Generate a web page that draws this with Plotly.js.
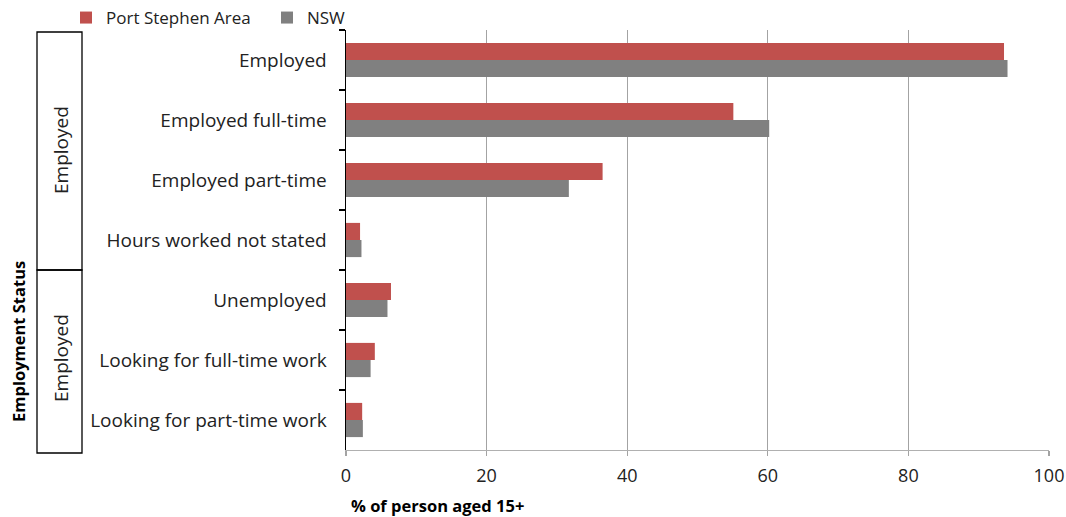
<!DOCTYPE html>
<html>
<head>
<meta charset="utf-8">
<script src="https://cdn.plot.ly/plotly-3.0.1.min.js"></script>
<style>
  html, body { margin: 0; padding: 0; background: #fff; }
  #chart { width: 1066px; height: 517px; }
</style>
</head>
<body>
<div id="chart"></div>
<script>
// Labour force status, % of persons aged 15+
const categories = [
  "Employed",
  "Employed full-time",
  "Employed part-time",
  "Hours worked not stated",
  "Unemployed",
  "Looking for full-time work",
  "Looking for part-time work"
];
const portStephenValues = [93.6, 55.1, 36.5, 2.0, 6.4, 4.1, 2.3];
const nswValues = [94.1, 60.2, 31.7, 2.2, 5.9, 3.5, 2.4];
const seriesNames = ["Port Stephen Area", "NSW"];
const xTicks = [0, 20, 40, 60, 80, 100];
const groupLabels = ["Employed", "Employed"];
const yTitle = "Employment Status";
const xTitle = "% of person aged 15+";

const FONT = "Open Sans, Lato, sans-serif";

const traces = [
  {
    type: "bar", orientation: "h", name: seriesNames[0],
    y: categories, x: portStephenValues,
    marker: { color: "#c0504d" }, hoverinfo: "x+name"
  },
  {
    type: "bar", orientation: "h", name: seriesNames[1],
    y: categories, x: nswValues,
    marker: { color: "#808080" }, hoverinfo: "x+name"
  }
];

// group brackets on the left: rows 0-3 and rows 4-6 of the category axis
const plotH = 420, plotW = 703;
function rowY(i) { return 1 - (i * 60) / plotH; }   // paper y of a row boundary
function px(x) { return (x - 346) / plotW; }         // paper x from a page column
function py(y) { return (450 - y) / plotH; }         // paper y from a page row

const shapes = [
  { type: "rect", xref: "paper", yref: "paper", x0: px(37), x1: px(82), y0: rowY(4), y1: py(32),
    line: { color: "#000", width: 1.3 }, fillcolor: "rgba(0,0,0,0)" },
  { type: "rect", xref: "paper", yref: "paper", x0: px(37), x1: px(82), y0: py(453), y1: rowY(4),
    line: { color: "#000", width: 1.3 }, fillcolor: "rgba(0,0,0,0)" }
];

const centered = { xanchor: "center", yanchor: "middle", showarrow: false, textangle: -90 };

const annotations = [
  Object.assign({ text: groupLabels[0], xref: "paper", yref: "paper", x: px(61), y: py(150),
    font: { family: FONT, size: 19, color: "#222" } }, centered),
  Object.assign({ text: groupLabels[1], xref: "paper", yref: "paper", x: px(61), y: py(358),
    font: { family: FONT, size: 19, color: "#222" } }, centered),
  Object.assign({ text: "<b>" + yTitle + "</b>", xref: "paper", yref: "paper", x: px(18), y: py(342),
    font: { family: FONT, size: 16.5, color: "#000" } }, centered),
  { text: "<b>" + xTitle + "</b>", xref: "paper", yref: "paper", x: px(349), y: py(505),
    xanchor: "left", yanchor: "middle", showarrow: false,
    font: { family: FONT, size: 16.5, color: "#000" } }
];

const layout = {
  width: 1066, height: 517,
  margin: { l: 346, r: 17, t: 30, b: 67, pad: 0, autoexpand: false },
  paper_bgcolor: "#fff", plot_bgcolor: "#fff",
  barmode: "group",
  bargap: 0.43,
  bargroupgap: 0,
  font: { family: FONT, color: "#222" },
  showlegend: true,
  legend: {
    orientation: "h", x: px(66), y: py(18), xanchor: "left", yanchor: "middle",
    font: { family: FONT, size: 17, color: "#222" },
    itemwidth: 30, entrywidth: 156, entrywidthmode: "pixels",
    tracegroupgap: 0, bgcolor: "rgba(0,0,0,0)"
  },
  xaxis: {
    range: [0, 100],
    tickvals: xTicks, ticktext: xTicks.map(String),
    showgrid: true, gridcolor: "#a3a3a3", gridwidth: 1.4,
    zeroline: false,
    showline: true, linecolor: "#b0b0b0", linewidth: 1.2,
    ticks: "outside", ticklen: 5, tickcolor: "#a3a3a3", tickwidth: 1.2,
    tickfont: { family: FONT, size: 18, color: "#222" },
    ticklabelstandoff: 4,
    automargin: false,
    fixedrange: true
  },
  yaxis: {
    type: "category",
    categoryorder: "array", categoryarray: categories,
    autorange: "reversed",
    showline: true, linecolor: "#000", linewidth: 1.5,
    ticks: "outside", ticklen: 6, tickcolor: "#000", tickwidth: 1.5,
    tickson: "boundaries",
    showgrid: false, zeroline: false,
    tickfont: { family: FONT, size: 19, color: "#222" },
    ticklabelstandoff: 14,
    automargin: false,
    fixedrange: true
  },
  shapes: shapes,
  annotations: annotations
};

Plotly.newPlot("chart", traces, layout, { displayModeBar: false, staticPlot: true });
</script>
</body>
</html>
